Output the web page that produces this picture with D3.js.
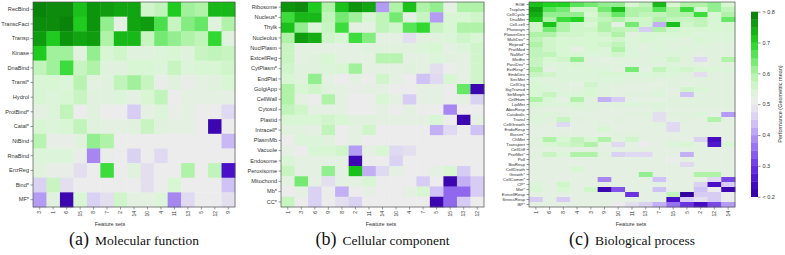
<!DOCTYPE html>
<html><head><meta charset="utf-8">
<script src="https://cdn.jsdelivr.net/npm/d3@7"></script>
<style>body{margin:0;background:#fff}svg{display:block}.cap{font-family:'Liberation Serif','DejaVu Serif',serif}</style>
</head><body><svg id="c" width="785" height="255"></svg>
<script>
// ---------- data ----------
const mfCols = ["3","1","6","15","8","7","2","14","10","4","11","13","5","12","9"];
const mfRows = ["RecBind","TranscFact","Transp","Kinase","DnaBind","Transl*","Hydrol","ProtBind*","Catal*","NtBind","RnaBind","EnzReg","Bind*","MF*"];
const mfValues = [
 [0.79,0.78,0.78,0.72,0.77,0.76,0.75,0.75,0.56,0.58,0.71,0.61,0.60,0.73,0.73],
 [0.78,0.78,0.79,0.71,0.77,0.62,0.52,0.75,0.76,0.67,0.57,0.63,0.65,0.53,0.60],
 [0.76,0.71,0.77,0.75,0.76,0.60,0.73,0.73,0.57,0.64,0.62,0.60,0.58,0.69,0.53],
 [0.71,0.61,0.61,0.53,0.62,0.55,0.56,0.53,0.53,0.54,0.55,0.53,0.57,0.58,0.57],
 [0.58,0.61,0.68,0.57,0.60,0.53,0.53,0.55,0.55,0.54,0.57,0.54,0.55,0.55,0.56],
 [0.55,0.55,0.54,0.59,0.52,0.53,0.58,0.61,0.57,0.51,0.53,0.51,0.52,0.53,0.55],
 [0.55,0.54,0.55,0.57,0.53,0.53,0.54,0.52,0.55,0.58,0.50,0.52,0.52,0.52,0.52],
 [0.52,0.54,0.58,0.50,0.53,0.50,0.50,0.45,0.52,0.54,0.51,0.52,0.50,0.50,0.47],
 [0.55,0.54,0.55,0.58,0.53,0.52,0.52,0.53,0.57,0.53,0.52,0.52,0.50,0.22,0.50],
 [0.59,0.51,0.51,0.53,0.62,0.60,0.50,0.50,0.50,0.50,0.50,0.50,0.50,0.50,0.43],
 [0.54,0.54,0.54,0.51,0.38,0.51,0.50,0.46,0.50,0.47,0.50,0.50,0.50,0.50,0.50],
 [0.53,0.51,0.51,0.48,0.50,0.68,0.50,0.53,0.48,0.50,0.50,0.60,0.50,0.58,0.25],
 [0.46,0.57,0.48,0.50,0.50,0.50,0.50,0.50,0.48,0.50,0.55,0.50,0.50,0.50,0.44],
 [0.40,0.53,0.22,0.55,0.46,0.48,0.56,0.52,0.52,0.54,0.38,0.47,0.50,0.50,0.48]
];

const ccCols = ["1","3","6","9","8","2","11","14","10","4","7","5","15","13","12"];
const ccRows = ["Ribosome","Nucleus*","Thylk","Nucleolus","NuclPlasm","ExtcellReg","CytPlasm*","EndPlat","GolgiApp","CellWall","Cytosol","Plastid","Intracell*","PlasmMb","Vacuole","Endosome","Peroxisome","Mitochond","Mb*","CC*"];
const ccValues = [
 [0.77,0.78,0.71,0.60,0.72,0.77,0.75,0.40,0.60,0.72,0.60,0.62,0.52,0.60,0.60],
 [0.68,0.73,0.73,0.58,0.64,0.61,0.55,0.58,0.64,0.52,0.57,0.40,0.55,0.55,0.56],
 [0.72,0.62,0.54,0.57,0.68,0.52,0.52,0.58,0.56,0.66,0.69,0.57,0.55,0.60,0.60],
 [0.60,0.76,0.74,0.56,0.55,0.68,0.63,0.52,0.52,0.48,0.53,0.53,0.54,0.56,0.55],
 [0.57,0.52,0.52,0.52,0.52,0.52,0.53,0.53,0.53,0.53,0.54,0.55,0.52,0.54,0.56],
 [0.57,0.52,0.53,0.55,0.52,0.52,0.52,0.59,0.59,0.52,0.52,0.54,0.53,0.52,0.56],
 [0.56,0.53,0.53,0.54,0.55,0.61,0.52,0.52,0.52,0.53,0.52,0.48,0.50,0.52,0.56],
 [0.55,0.53,0.62,0.52,0.50,0.52,0.50,0.56,0.52,0.50,0.44,0.47,0.55,0.52,0.56],
 [0.60,0.55,0.56,0.53,0.52,0.51,0.52,0.52,0.50,0.50,0.52,0.52,0.50,0.65,0.22],
 [0.60,0.52,0.50,0.60,0.52,0.50,0.50,0.55,0.52,0.45,0.52,0.52,0.50,0.52,0.46],
 [0.58,0.56,0.52,0.52,0.52,0.50,0.50,0.52,0.50,0.52,0.50,0.50,0.38,0.50,0.50],
 [0.55,0.55,0.55,0.56,0.55,0.53,0.53,0.52,0.52,0.52,0.52,0.55,0.50,0.22,0.52],
 [0.53,0.53,0.52,0.58,0.50,0.52,0.56,0.50,0.50,0.50,0.50,0.42,0.47,0.50,0.44],
 [0.50,0.54,0.54,0.53,0.50,0.52,0.50,0.50,0.50,0.50,0.50,0.50,0.50,0.50,0.50],
 [0.52,0.50,0.55,0.55,0.56,0.40,0.52,0.55,0.47,0.48,0.50,0.50,0.50,0.50,0.50],
 [0.55,0.52,0.52,0.52,0.52,0.22,0.50,0.50,0.46,0.50,0.50,0.50,0.50,0.50,0.50],
 [0.57,0.52,0.52,0.62,0.52,0.72,0.42,0.47,0.52,0.50,0.50,0.52,0.55,0.45,0.50],
 [0.52,0.64,0.52,0.48,0.52,0.52,0.55,0.50,0.50,0.50,0.45,0.50,0.22,0.42,0.45],
 [0.50,0.52,0.46,0.50,0.42,0.50,0.52,0.50,0.50,0.52,0.55,0.44,0.35,0.35,0.45],
 [0.57,0.50,0.46,0.50,0.48,0.46,0.50,0.50,0.50,0.50,0.50,0.22,0.35,0.45,0.50]
];

const bpCols = ["1","6","8","4","3","9","10","11","13","7","15","5","2","12","14"];
const bpRows = ["RGE","Troplsm","CellCycle","DnaMet","Cell-cell","Photosyn","FlowerDev","MultDev*","Reprod*","ProtMod","NaMet*","MetEn","PostDev*","ExtResp*","EmbDev","SecMet","CellOrg","SigTransd","StrMorph","CellHom","LipMet","AbioResp","Catabolic","Transl","CellGrowth","EndoResp","Biosint*","ChMet","Transport","CellDiff","ProtMet*","Poll","BioResp","CellDeath","Growth*","CellComm*","CP*","Met*","ExtcellResp","StressResp","BP*"];
const bpValues = [
 [0.72,0.70,0.70,0.66,0.64,0.62,0.62,0.55,0.58,0.73,0.55,0.60,0.60,0.62,0.55],
 [0.76,0.66,0.64,0.56,0.56,0.64,0.72,0.60,0.60,0.66,0.60,0.68,0.55,0.62,0.58],
 [0.74,0.62,0.62,0.62,0.55,0.60,0.65,0.60,0.58,0.58,0.60,0.60,0.68,0.55,0.60],
 [0.72,0.60,0.68,0.70,0.56,0.58,0.60,0.56,0.56,0.60,0.58,0.57,0.58,0.55,0.65],
 [0.56,0.72,0.60,0.56,0.55,0.60,0.52,0.64,0.56,0.42,0.72,0.56,0.58,0.55,0.55],
 [0.56,0.64,0.60,0.56,0.56,0.60,0.58,0.57,0.45,0.60,0.56,0.55,0.55,0.55,0.55],
 [0.60,0.60,0.56,0.56,0.55,0.56,0.60,0.53,0.55,0.55,0.55,0.55,0.54,0.54,0.54],
 [0.58,0.56,0.55,0.55,0.55,0.55,0.56,0.54,0.55,0.54,0.54,0.53,0.55,0.54,0.54],
 [0.60,0.56,0.55,0.55,0.55,0.56,0.58,0.54,0.53,0.54,0.53,0.53,0.54,0.53,0.53],
 [0.58,0.56,0.55,0.52,0.55,0.54,0.60,0.54,0.53,0.54,0.53,0.54,0.53,0.53,0.53],
 [0.58,0.58,0.55,0.55,0.54,0.54,0.56,0.54,0.53,0.53,0.54,0.53,0.52,0.53,0.53],
 [0.57,0.55,0.56,0.62,0.53,0.52,0.53,0.53,0.53,0.54,0.56,0.53,0.47,0.53,0.60],
 [0.57,0.54,0.54,0.55,0.53,0.53,0.53,0.53,0.53,0.53,0.54,0.53,0.52,0.53,0.53],
 [0.60,0.52,0.54,0.54,0.54,0.54,0.52,0.64,0.52,0.58,0.55,0.56,0.55,0.54,0.54],
 [0.57,0.56,0.54,0.54,0.54,0.55,0.55,0.54,0.54,0.55,0.54,0.53,0.48,0.53,0.53],
 [0.54,0.53,0.54,0.54,0.54,0.54,0.54,0.53,0.53,0.53,0.53,0.53,0.53,0.53,0.53],
 [0.55,0.54,0.53,0.52,0.56,0.53,0.53,0.52,0.52,0.52,0.53,0.52,0.53,0.53,0.53],
 [0.55,0.54,0.53,0.53,0.55,0.53,0.52,0.52,0.52,0.53,0.52,0.56,0.55,0.53,0.53],
 [0.55,0.57,0.54,0.54,0.55,0.53,0.52,0.53,0.53,0.54,0.52,0.44,0.53,0.53,0.53],
 [0.60,0.55,0.52,0.60,0.53,0.42,0.45,0.52,0.52,0.52,0.53,0.53,0.53,0.53,0.53],
 [0.55,0.54,0.54,0.55,0.53,0.53,0.53,0.54,0.53,0.54,0.53,0.53,0.53,0.53,0.53],
 [0.53,0.52,0.52,0.53,0.53,0.52,0.52,0.52,0.52,0.53,0.52,0.52,0.52,0.52,0.52],
 [0.53,0.54,0.53,0.52,0.52,0.52,0.52,0.53,0.53,0.48,0.53,0.53,0.54,0.52,0.40],
 [0.54,0.53,0.57,0.53,0.52,0.52,0.53,0.52,0.52,0.48,0.52,0.53,0.52,0.60,0.52],
 [0.53,0.52,0.47,0.52,0.52,0.53,0.52,0.52,0.52,0.53,0.47,0.52,0.52,0.52,0.52],
 [0.52,0.52,0.52,0.52,0.52,0.55,0.52,0.52,0.52,0.52,0.47,0.52,0.52,0.52,0.52],
 [0.52,0.52,0.53,0.52,0.52,0.52,0.53,0.53,0.52,0.52,0.52,0.52,0.52,0.52,0.52],
 [0.53,0.60,0.55,0.58,0.55,0.60,0.53,0.56,0.52,0.52,0.52,0.52,0.46,0.24,0.52],
 [0.53,0.55,0.56,0.57,0.60,0.52,0.47,0.52,0.50,0.52,0.54,0.55,0.52,0.26,0.55],
 [0.52,0.52,0.52,0.52,0.53,0.52,0.52,0.52,0.52,0.52,0.52,0.52,0.52,0.52,0.52],
 [0.53,0.57,0.54,0.60,0.60,0.53,0.46,0.47,0.47,0.52,0.52,0.42,0.52,0.52,0.52],
 [0.52,0.52,0.52,0.52,0.52,0.52,0.52,0.52,0.52,0.52,0.50,0.52,0.52,0.52,0.52],
 [0.52,0.52,0.52,0.52,0.52,0.52,0.52,0.52,0.52,0.52,0.52,0.47,0.52,0.52,0.52],
 [0.52,0.52,0.52,0.55,0.52,0.52,0.52,0.52,0.52,0.52,0.52,0.52,0.52,0.52,0.52],
 [0.52,0.52,0.52,0.52,0.52,0.52,0.52,0.52,0.62,0.52,0.52,0.52,0.60,0.60,0.52],
 [0.52,0.52,0.52,0.52,0.52,0.38,0.52,0.52,0.52,0.44,0.52,0.52,0.52,0.47,0.32],
 [0.54,0.52,0.56,0.52,0.52,0.52,0.52,0.52,0.52,0.52,0.52,0.52,0.46,0.25,0.45],
 [0.55,0.52,0.55,0.52,0.56,0.22,0.33,0.52,0.52,0.44,0.52,0.52,0.44,0.50,0.22],
 [0.52,0.52,0.52,0.52,0.52,0.52,0.52,0.30,0.52,0.52,0.58,0.20,0.45,0.45,0.50],
 [0.45,0.52,0.45,0.52,0.52,0.52,0.52,0.52,0.52,0.52,0.25,0.45,0.48,0.45,0.50],
 [0.52,0.52,0.52,0.52,0.52,0.52,0.50,0.48,0.46,0.42,0.36,0.30,0.24,0.32,0.40]
];

const legendTicks = [0.2,0.3,0.4,0.5,0.6,0.7,0.8];
const legendLabels = ["< 0.2","0.3","0.4","0.5","0.6","0.7","> 0.8"];
const legendTitle = "Performance (Geometric mean)";
const captions = [["(a)","Molecular function"],["(b)","Cellular component"],["(c)","Biological process"]];
const xTitle = "Feature sets";

// ---------- drawing ----------
const svg = d3.select("#c");
const color = d3.scaleLinear()
  .domain([0.2,0.25,0.3,0.35,0.4,0.45,0.5,0.55,0.6,0.65,0.7,0.75,0.8])
  .range(["#3300a0","#4a0fc8","#6a35e0","#9068ee","#b49cf4","#d6ccf4","#ececec","#d8f6d4","#b0f2a8","#66e866","#22d422","#11a511","#087a08"])
  .clamp(true);

const yTop = 2, yBot = 207;
const panels = [
  {rows: mfRows, cols: mfCols, vals: mfValues, x0: 33, x1: 235, fs: 5.6, cap: captions[0], titleX: 110},
  {rows: ccRows, cols: ccCols, vals: ccValues, x0: 281, x1: 484, fs: 5.6, cap: captions[1], titleX: 381},
  {rows: bpRows, cols: bpCols, vals: bpValues, x0: 529, x1: 735, fs: 4.4, cap: captions[2], titleX: 631}
];

panels.forEach(p => {
  const g = svg.append("g");
  const x = d3.scaleBand().domain(p.cols).range([p.x0, p.x1]);
  const y = d3.scaleBand().domain(p.rows).range([yTop, yBot]);
  const cells = [];
  p.rows.forEach((r, i) => p.cols.forEach((c, j) => cells.push({r, c, v: p.vals[i][j]})));
  g.selectAll("rect.cell").data(cells).enter().append("rect")
    .attr("class","cell")
    .attr("x", d => x(d.c)).attr("y", d => y(d.r))
    .attr("width", x.bandwidth() + 0.4).attr("height", y.bandwidth() + 0.4)
    .attr("fill", d => color(d.v));
  g.append("rect").attr("x", p.x0).attr("y", yTop).attr("width", p.x1 - p.x0).attr("height", yBot - yTop)
    .attr("fill","none").attr("stroke","#555").attr("stroke-width",0.7);

  const ya = g.append("g").attr("transform", `translate(${p.x0},0)`)
    .call(d3.axisLeft(y).tickSize(2.5).tickPadding(1.5));
  ya.select(".domain").remove();
  ya.selectAll("line").attr("stroke","#555").attr("stroke-width",0.6);
  ya.selectAll("text").attr("font-family","Liberation Sans, Arial, sans-serif").attr("font-size", p.fs).attr("fill","#333");

  const xa = g.append("g").attr("transform", `translate(0,${yBot})`)
    .call(d3.axisBottom(x).tickSize(2.5));
  xa.select(".domain").remove();
  xa.selectAll("line").attr("stroke","#555").attr("stroke-width",0.6);
  xa.selectAll("text")
    .attr("font-family","Liberation Sans, Arial, sans-serif").attr("font-size",5).attr("fill","#333")
    .attr("transform","rotate(-90)").attr("text-anchor","end")
    .attr("x",-4).attr("y",0).attr("dy","0.35em");

  g.append("text").attr("x", p.titleX).attr("y", 226)
    .attr("text-anchor","middle").attr("font-family","Liberation Sans, Arial, sans-serif")
    .attr("font-size",5.5).attr("fill","#333").text(xTitle);

  const cap = g.append("text").attr("class","cap").attr("x", (p.x0 + p.x1) / 2).attr("y", 245)
    .attr("text-anchor","middle").attr("fill","#111");
  cap.append("tspan").attr("font-size",18).text(p.cap[0]);
  cap.append("tspan").attr("font-size",13.5).attr("dx",6).text(p.cap[1]);
});

// legend
const ly = d3.scaleLinear().domain([0.2,0.8]).range([196.7, 11.7]);
const steps = 24;
const lg = svg.append("g");
const stepVals = d3.range(steps).map(i => 0.2 + (i + 0.5) * 0.6 / steps);
lg.selectAll("rect").data(stepVals).enter().append("rect")
  .attr("x", 751).attr("width", 7)
  .attr("y", d => ly(d + 0.3/steps)).attr("height", ly(0.2) - ly(0.2 + 0.6/steps) + 0.3)
  .attr("fill", d => color(d));
const la = lg.append("g").attr("transform","translate(758,0)")
  .call(d3.axisRight(ly).tickValues(legendTicks).tickSize(2.5).tickPadding(2)
    .tickFormat((d,i) => legendLabels[i]));
la.select(".domain").remove();
la.selectAll("line").attr("stroke","#555").attr("stroke-width",0.6);
la.selectAll("text").attr("font-family","Liberation Sans, Arial, sans-serif").attr("font-size",5.5).attr("fill","#333");
lg.append("text").attr("transform","translate(782,104) rotate(-90)")
  .attr("text-anchor","middle").attr("font-family","Liberation Sans, Arial, sans-serif")
  .attr("font-size",5.5).attr("fill","#333").text(legendTitle);
</script></body></html>
